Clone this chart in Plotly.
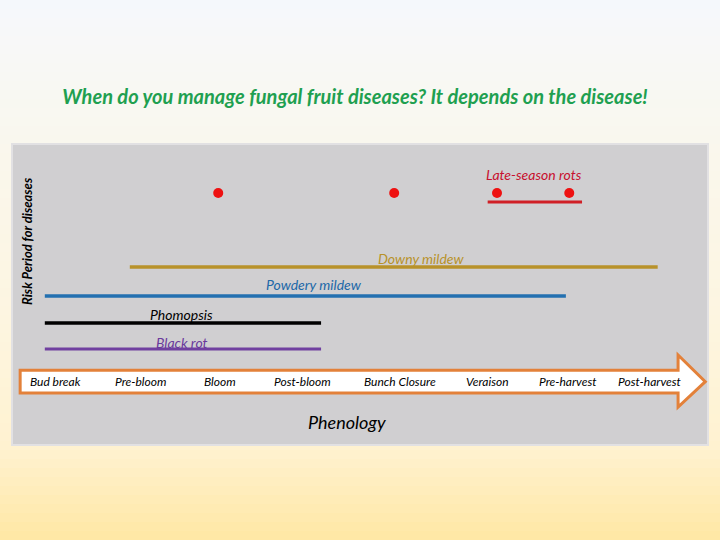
import plotly.graph_objects as go

# ---------------- data ----------------
stages = ["Bud break", "Pre-bloom", "Bloom", "Post-bloom", "Bunch Closure",
          "Veraison", "Pre-harvest", "Post-harvest"]
stage_pos = [0.0, 1.01, 1.94, 2.91, 4.06, 5.09, 6.03, 7.0]

diseases = ["Black rot", "Phomopsis", "Powdery mildew", "Downy mildew", "Late-season rots"]
risk_start = [-0.12, -0.12, -0.12, 0.88, 5.09]
risk_end = [3.13, 3.13, 6.01, 7.09, 6.2]
risk_row = [3.19, 4.05, 4.95, 5.91, 8.07]
label_x = [1.49, 1.49, 3.05, 4.31, 5.63]
label_row = [3.39, 4.35, 5.32, 6.21, 9.0]
colors = ["#7040A0", "#000000", "#2370B0", "#B8922A", "#D01F26"]
label_colors = ["#6A3A9C", "#000000", "#2068A8", "#B8922A", "#C8102E"]
line_widths = [3, 3.5, 3.5, 3.5, 3]

# late-season rot infection points
dot_x = [1.92, 3.99, 5.2, 6.05]
dot_row = [8.37, 8.37, 8.37, 8.37]

# phenology arrow extent (axis units)
arrow_x0, arrow_head, arrow_tip = -0.41, 7.33, 7.65
arrow_y0, arrow_y1, arrow_h0, arrow_h1 = 1.73, 2.48, 1.26, 2.99
arrow_mid = (arrow_y0 + arrow_y1) / 2

X_RANGE = [-0.506, 7.682]
Y_RANGE = [0, 10]

W, H = 720, 540
ML, MR, MT, MB = 12, 12, 144, 95
PW, PH = W - ML - MR, H - MT - MB

fig = go.Figure()

# ---------------- background gradient ----------------
grad = [(0.0, (245, 248, 252)), (0.08, (248, 248, 248)), (0.16, (248, 248, 243)),
        (0.3, (250, 247, 236)), (0.6, (253, 245, 224)), (0.83, (255, 242, 208)),
        (1.0, (255, 232, 164))]


def gcol(t):
    for (a, ca), (b, cb) in zip(grad[:-1], grad[1:]):
        if a <= t <= b:
            f = (t - a) / (b - a) if b > a else 0
            return "rgb(%d,%d,%d)" % tuple(round(ca[i] + (cb[i] - ca[i]) * f) for i in range(3))
    return "rgb(255,232,164)"


def py(p):  # pixel row -> paper y
    return (H - MB - p) / PH


shapes = []
N = 60
for i in range(N):
    p0 = H * i / N
    p1 = H * (i + 1) / N
    shapes.append(dict(type="rect", xref="paper", yref="paper",
                       x0=-ML / PW - 0.01, x1=1 + MR / PW + 0.01,
                       y0=py(p1 + 1), y1=py(p0), line=dict(width=0),
                       fillcolor=gcol((i + 0.5) / N), layer="below"))
# gray panel
shapes.append(dict(type="rect", xref="x domain", yref="y domain", x0=0, x1=1, y0=0, y1=1,
                   line=dict(color="#E2E1E3", width=2), fillcolor="#D0CFD1", layer="below"))
# phenology arrow
path = ("M {a},{y0} L {h},{y0} L {h},{h0} L {t},{m} L {h},{h1} L {h},{y1} L {a},{y1} Z"
        .format(a=arrow_x0, h=arrow_head, t=arrow_tip, y0=arrow_y0, y1=arrow_y1,
                h0=arrow_h0, h1=arrow_h1, m=arrow_mid))
shapes.append(dict(type="path", xref="x", yref="y", path=path,
                   line=dict(color="#E3813A", width=3), fillcolor="#FFFFFF", layer="below"))

# ---------------- risk periods ----------------
for name, xs, xe, yr, c, w in zip(diseases, risk_start, risk_end, risk_row, colors, line_widths):
    fig.add_trace(go.Scatter(x=[xs, xe], y=[yr, yr], mode="lines",
                             line=dict(color=c, width=w), name=name,
                             hoverinfo="name", showlegend=False))

fig.add_trace(go.Scatter(x=dot_x, y=dot_row, mode="markers",
                         marker=dict(color="#EE1111", size=10), showlegend=False,
                         name="Late-season rots"))

annotations = []
for name, lx, ly, c in zip(diseases, label_x, label_row, label_colors):
    annotations.append(dict(x=lx, y=ly, xref="x", yref="y", text="<i>%s</i>" % name,
                            showarrow=False, font=dict(family="Lato", size=14, color=c)))

for s, p in zip(stages, stage_pos):
    annotations.append(dict(x=p, y=arrow_mid, xref="x", yref="y", text="<i>%s</i>" % s,
                            showarrow=False, font=dict(family="Lato", size=12, color="#000000")))

annotations.append(dict(x=3.435, y=0.76, xref="x", yref="y", text="<i>Phenology</i>",
                        showarrow=False, font=dict(family="Lato", size=18, color="#000000")))
annotations.append(dict(x=(27 - ML) / PW, y=py(241), xref="paper", yref="paper",
                        yanchor="middle", xanchor="center",
                        text="<b><i>Risk Period for diseases</i></b>", textangle=-90,
                        showarrow=False, font=dict(family="Lato", size=13, color="#000000")))

fig.update_layout(
    width=W, height=H,
    margin=dict(l=ML, r=MR, t=MT, b=MB),
    paper_bgcolor="#FAF7EE",
    plot_bgcolor="rgba(0,0,0,0)",
    shapes=shapes,
    annotations=annotations,
    title=dict(text="<b><i>When do you manage fungal fruit diseases? It depends on the disease!</i></b>",
               x=0.493, xanchor="center", y=1 - 97 / H, yanchor="middle",
               font=dict(family="Lato", size=20, color="#1FA050")),
    xaxis=dict(range=X_RANGE, visible=False, fixedrange=True),
    yaxis=dict(range=Y_RANGE, visible=False, fixedrange=True),
    showlegend=False,
)

fig.write_html("out.html", config={"displayModeBar": False},
               post_script="document.body.style.margin='0px';document.body.style.padding='0px';")
